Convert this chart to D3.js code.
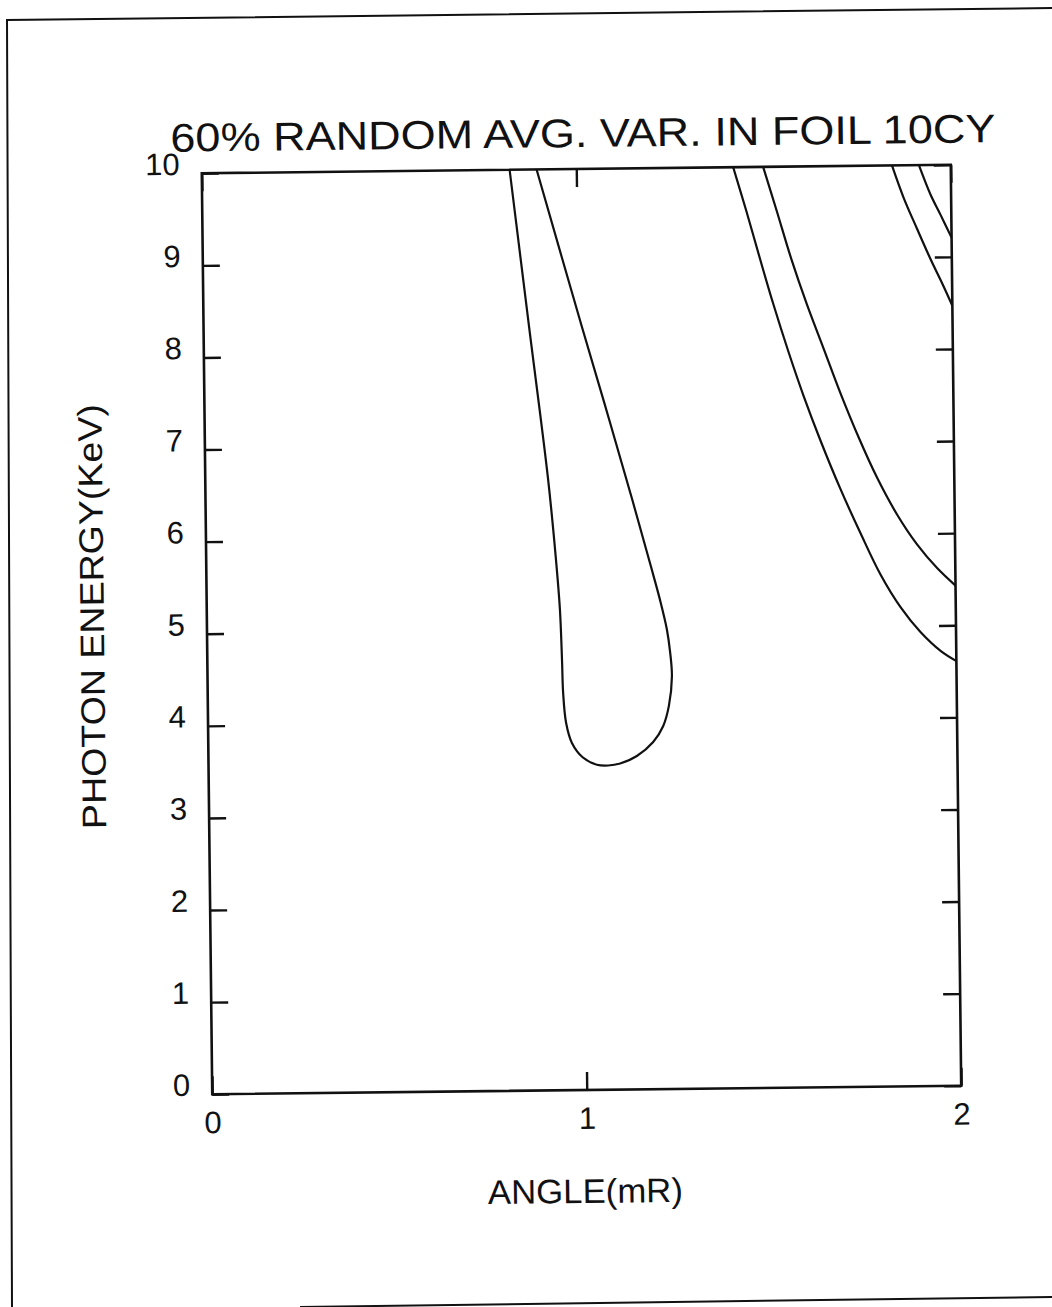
<!DOCTYPE html>
<html>
<head>
<meta charset="utf-8">
<script src="https://cdn.jsdelivr.net/npm/d3@7"></script>
<style>
  body { margin: 0; background: #fff; }
  text { font-family: "Liberation Sans", Arial, sans-serif; fill: #111; }
</style>
</head>
<body>
<div id="chart"></div>
<script>
// ---- data ----
const titleText = "60% RANDOM AVG. VAR. IN FOIL 10CY";
const xTitle = "ANGLE(mR)";
const yTitle = "PHOTON ENERGY(KeV)";
const xTicks = [0, 1, 2];
const yTicks = [0, 1, 2, 3, 4, 5, 6, 7, 8, 9, 10];

// closed U-shaped contour
const loopAngle  = [0.822, 0.869, 0.915, 0.934, 0.943, 0.947, 0.949, 0.956, 0.971, 1.000, 1.037, 1.067, 1.099, 1.144, 1.188, 1.215, 1.231, 1.240, 1.236, 1.228, 1.210, 1.187, 1.139, 1.080, 1.010, 0.894];
const loopEnergy = [10.0,  8.30,  6.65,  5.76,  5.22,  4.68,  4.32,  3.99,  3.77,  3.61,  3.53,  3.52,  3.54,  3.62,  3.77,  3.94,  4.16,  4.48,  4.74,  4.99,  5.32,  5.68,  6.41,  7.28,  8.29,  10.0];

// lower of the middle pair
const bandAAngle  = [1.419, 1.453, 1.488, 1.522, 1.561, 1.600, 1.644, 1.695, 1.748, 1.800, 1.853, 1.905, 1.959, 2.000];
const bandAEnergy = [10.0,  9.52,  9.00,  8.51,  7.99,  7.51,  7.02,  6.50,  6.01,  5.56,  5.20,  4.93,  4.72,  4.61];

// upper of the middle pair
const bandBAngle  = [1.499, 1.534, 1.572, 1.611, 1.655, 1.698, 1.746, 1.794, 1.846, 1.899, 1.952, 2.000];
const bandBEnergy = [10.0,  9.52,  8.99,  8.51,  8.02,  7.54,  7.05,  6.61,  6.21,  5.88,  5.62,  5.43];

// corner pair
const cornerAAngle  = [1.843, 1.873, 1.908, 1.943, 1.974, 2.000];
const cornerAEnergy = [10.0,  9.65,  9.31,  8.98,  8.71,  8.47];
const cornerBAngle  = [1.915, 1.945, 1.971, 2.000];
const cornerBEnergy = [10.0,  9.68,  9.46,  9.21];

const contours = [
  [loopAngle, loopEnergy],
  [bandAAngle, bandAEnergy],
  [bandBAngle, bandBEnergy],
  [cornerAAngle, cornerAEnergy],
  [cornerBAngle, cornerBEnergy]
].map(([a, e]) => a.map((v, i) => ({ angle: v, energy: e[i] })));

// ---- layout ----
const width = 1052, height = 1307;
const plotLeft = 207, plotTop = 169, plotW = 749, plotH = 921;
const cx = plotLeft + plotW / 2, cy = plotTop + plotH / 2;
const tilt = -0.65;   // the scan is slightly rotated

const svg = d3.select("#chart").append("svg")
    .attr("width", width)
    .attr("height", height);

// page frame of the scan
svg.append("path")
    .attr("d", "M1052,8 L7,20 L12,1307")
    .attr("fill", "none").attr("stroke", "#111").attr("stroke-width", 2);
svg.append("path")
    .attr("d", "M300,1307 L1052,1297")
    .attr("fill", "none").attr("stroke", "#111").attr("stroke-width", 2);

const page = svg.append("g")
    .attr("transform", "rotate(" + tilt + "," + cx + "," + cy + ")");

const x = d3.scaleLinear().domain([0, 2]).range([0, plotW]);
const y = d3.scaleLinear().domain([0, 10]).range([plotH, 0]);

const g = page.append("g")
    .attr("transform", "translate(" + plotLeft + "," + plotTop + ")");

g.append("clipPath").attr("id", "clip")
  .append("rect").attr("width", plotW).attr("height", plotH);

// ticks
const styleAxis = sel => {
  sel.select(".domain").remove();
  sel.selectAll(".tick line").attr("stroke", "#111").attr("stroke-width", 2.4);
  sel.selectAll("text").style("font-size", "31px").attr("fill", "#111");
};

g.append("g")
    .call(d3.axisLeft(y).tickValues(yTicks).tickSizeInner(-17).tickSizeOuter(0)
      .tickPadding(22).tickFormat(d3.format("d")))
    .call(styleAxis)
    .selectAll("text").attr("dy", "0.03em");

g.append("g")
    .attr("transform", "translate(" + plotW + ",0)")
    .call(d3.axisRight(y).tickValues(yTicks).tickSizeInner(-17).tickSizeOuter(0).tickFormat(""))
    .call(styleAxis);

g.append("g")
    .call(d3.axisTop(x).tickValues(xTicks).tickSizeInner(-18).tickSizeOuter(0).tickFormat(""))
    .call(styleAxis);

g.append("g")
    .attr("transform", "translate(0," + plotH + ")")
    .call(d3.axisBottom(x).tickValues(xTicks).tickSizeInner(-18).tickSizeOuter(0)
      .tickPadding(17).tickFormat(d3.format("d")))
    .call(styleAxis);

// frame of the plot
g.append("rect")
    .attr("width", plotW).attr("height", plotH)
    .attr("fill", "none").attr("stroke", "#111").attr("stroke-width", 2.6);

// contours
const line = d3.line()
    .x(d => x(d.angle))
    .y(d => y(d.energy))
    .curve(d3.curveCatmullRom.alpha(0.5));

g.append("g").attr("clip-path", "url(#clip)")
  .selectAll("path")
  .data(contours)
  .join("path")
    .attr("d", line)
    .attr("fill", "none")
    .attr("stroke", "#111")
    .attr("stroke-width", 2.2);

// texts
page.append("text")
    .attr("x", 176).attr("y", 147)
    .attr("textLength", 825).attr("lengthAdjust", "spacingAndGlyphs")
    .style("font-size", "40px")
    .text(titleText);

page.append("text")
    .attr("x", 579).attr("y", 1203)
    .attr("text-anchor", "middle")
    .attr("textLength", 195).attr("lengthAdjust", "spacingAndGlyphs")
    .style("font-size", "34px")
    .text(xTitle);

page.append("text")
    .attr("transform", "translate(104,611) rotate(-90)")
    .attr("text-anchor", "middle")
    .attr("textLength", 425).attr("lengthAdjust", "spacingAndGlyphs")
    .style("font-size", "34px")
    .text(yTitle);
</script>
</body>
</html>
